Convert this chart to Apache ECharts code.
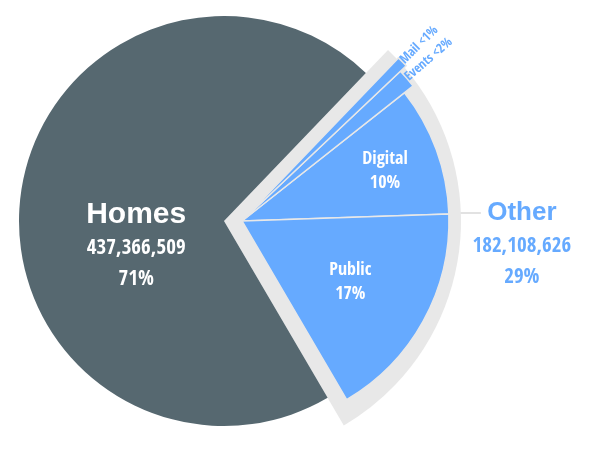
<!DOCTYPE html>
<html><head><meta charset="utf-8">
<script src="https://cdn.jsdelivr.net/npm/echarts/dist/echarts.min.js"></script>
<style>html,body{margin:0;padding:0;background:#fff}#c{width:600px;height:450px}</style>
</head><body><div id="c"></div>
<script>
// ---- data ----
const mainNames = ['Other', 'Homes'];
const mainValues = [182108626, 437366509];
const mainPct = ['29%', '71%'];
const subNames = ['Mail', 'Events', 'Digital', 'Public'];
const subValues = [4808626, 8800000, 62500000, 106000000];
const subPct = ['<1%', '<2%', '10%', '17%'];

// ---- style ----
const C_HOME = '#566870', C_BLUE = '#66aaff', C_GRAY = '#e8e8e8', C_LINE = '#e2e2e2';
const CX = 224, CY = 221, R_HOME = 205, R_GRAY = 237;
const BX = 242, BY = 221;
const START = 46.2;
const COND = "'Open Sans Condensed', 'Roboto Condensed', 'DejaVu Sans Condensed', sans-serif";
const BOLD = "'Liberation Sans', Arial, sans-serif";
const fmt = v => String(v).replace(/\B(?=(\d{3})+(?!\d))/g, ',');
const NOHOVER = { disabled: true };

const chart = echarts.init(document.getElementById('c'), null, { renderer: 'canvas' });

// gray frame slice for "Other"
const graySeries = {
  type: 'pie', center: [CX, CY], radius: R_GRAY, startAngle: START, clockwise: true,
  avoidLabelOverlap: false, silent: true, emphasis: NOHOVER, z: 1,
  data: [
    { name: mainNames[0], value: mainValues[0], itemStyle: { color: C_GRAY },
      label: { show: true, position: 'outside',
        formatter: () => '{t|' + mainNames[0] + '}\n{n|' + fmt(mainValues[0]) + '}\n{p|' + mainPct[0] + '}',
        rich: {
          t: { fontFamily: BOLD, fontWeight: 'bold', fontSize: 26, color: C_BLUE, lineHeight: 34, align: 'center' },
          n: { fontFamily: COND, fontWeight: 'bold', fontSize: 21, color: C_BLUE, lineHeight: 34, align: 'center' },
          p: { fontFamily: COND, fontWeight: 'bold', fontSize: 21, color: C_BLUE, lineHeight: 28, align: 'center' }
        } },
      labelLine: { show: true, length: 4, length2: 18, lineStyle: { color: C_LINE, width: 2 } } },
    { name: mainNames[1], value: mainValues[1], itemStyle: { color: 'transparent' },
      label: { show: false }, labelLine: { show: false } }
  ],
  labelLayout: function (p) {
    if (p.dataIndex !== 0) return;
    const y = 213;
    const x0 = CX + Math.sqrt(R_GRAY * R_GRAY - (y - CY) * (y - CY)) - 1;
    return { x: x0 + 62, y: y - 17, align: 'center', verticalAlign: 'top',
      labelLinePoints: [[x0, y], [x0 + 10, y], [x0 + 21, y]] };
  }
};

// Homes slice
const homesSeries = {
  type: 'pie', center: [CX, CY], radius: R_HOME, startAngle: START, clockwise: true,
  avoidLabelOverlap: false, silent: true, emphasis: NOHOVER, z: 2,
  data: [
    { name: mainNames[0], value: mainValues[0], itemStyle: { color: 'transparent' },
      label: { show: false }, labelLine: { show: false } },
    { name: mainNames[1], value: mainValues[1], itemStyle: { color: C_HOME },
      label: { show: true, position: 'inside',
        formatter: () => '{t|' + mainNames[1] + '}\n{n|' + fmt(mainValues[1]) + '}\n{p|' + mainPct[1] + '}',
        rich: {
          t: { fontFamily: BOLD, fontWeight: 'bold', fontSize: 30, color: '#fff', lineHeight: 34, align: 'center' },
          n: { fontFamily: COND, fontWeight: 'bold', fontSize: 21, color: '#fff', lineHeight: 34, align: 'center' },
          p: { fontFamily: COND, fontWeight: 'bold', fontSize: 21, color: '#fff', lineHeight: 28, align: 'center' }
        } },
      labelLine: { show: false } }
  ],
  labelLayout: { dx: 17, dy: 37 }
};

// blue sub-slices, drawn as groups with their own radius
const groups = [ { idx: [2, 3], r: 207 }, { idx: [1], r: 218 }, { idx: [0], r: 226 } ];
const insideShift = { Digital: [43, -13], Public: [15, 10] };
const blueSeries = groups.map((g, gi) => ({
  type: 'pie', center: [BX, BY], radius: g.r, startAngle: START, clockwise: true,
  avoidLabelOverlap: false, silent: true, emphasis: NOHOVER, z: 3 + gi,
  data: subNames.map((n, i) => {
    const on = g.idx.indexOf(i) >= 0;
    if (!on) return { name: n, value: subValues[i], itemStyle: { color: 'transparent', borderWidth: 0 },
      label: { show: false }, labelLine: { show: false } };
    const inside = subValues[i] > 30000000;
    return {
      name: n, value: subValues[i],
      itemStyle: { color: C_BLUE, borderColor: C_GRAY, borderWidth: 1.5 },
      label: inside ? {
        show: true, position: 'inside', color: '#fff', fontFamily: COND, fontWeight: 'bold',
        fontSize: 18, lineHeight: 24, formatter: () => n + '\n' + subPct[i]
      } : {
        show: true, position: 'outside', rotate: 'radial', color: C_BLUE, fontFamily: COND,
        fontWeight: 'bold', fontSize: 13, distanceToLabelLine: 0, formatter: () => n + ' ' + subPct[i]
      },
      labelLine: { show: false, length: 0, length2: 0 }
    };
  }).concat([{ name: mainNames[1], value: mainValues[1],
    itemStyle: { color: 'transparent', borderWidth: 0 }, label: { show: false }, labelLine: { show: false } }]),
  labelLayout: function (p) {
    const s = insideShift[subNames[p.dataIndex]];
    if (s) return { dx: s[0], dy: s[1] };
  }
}));

chart.setOption({
  animation: false,
  backgroundColor: '#fff',
  series: [graySeries, homesSeries].concat(blueSeries)
});
</script>
</body></html>
